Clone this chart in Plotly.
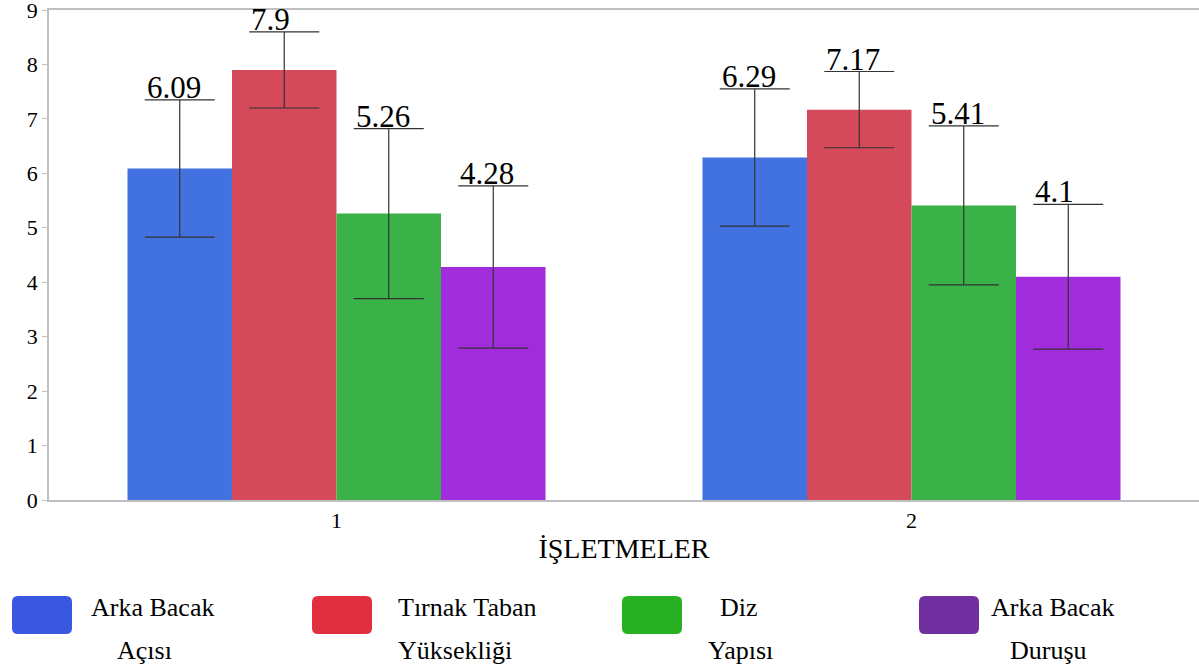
import plotly.graph_objects as go

categories = ["1", "2"]
series_names = ["Arka Bacak Açısı", "Tırnak Taban Yüksekliği", "Diz Yapısı", "Arka Bacak Duruşu"]
legend_line1 = ["Arka Bacak", "Tırnak Taban", "Diz", "Arka Bacak"]
legend_line2 = ["Açısı", "Yüksekliği", "Yapısı", "Duruşu"]

arka_bacak_acisi = [6.09, 6.29]
tirnak_taban = [7.9, 7.17]
diz_yapisi = [5.26, 5.41]
arka_bacak_durusu = [4.28, 4.1]
values = [arka_bacak_acisi, tirnak_taban, diz_yapisi, arka_bacak_durusu]

err_acisi = [1.26, 1.26]
err_tirnak = [0.70, 0.70]
err_diz = [1.56, 1.46]
err_durusu = [1.49, 1.33]
errors = [err_acisi, err_tirnak, err_diz, err_durusu]

bar_colors = ["#4272df", "#d54a5a", "#3bb247", "#a02cdc"]
legend_colors = ["#3a57e0", "#e03040", "#28b023", "#7030a0"]

y_ticks = list(range(0, 10))

FONT = "Liberation Serif"
BARGAP = 0.273

fig = go.Figure()
for name, vals, errs, col in zip(series_names, values, errors, bar_colors):
    fig.add_trace(go.Bar(
        x=categories, y=vals, name=name,
        marker=dict(color=col, line=dict(width=0)),
        error_y=dict(type="data", array=errs, visible=True,
                     color="#333333", thickness=1.2, width=35),
        showlegend=False,
    ))

# value labels above error bars
n = len(series_names)
w = (1 - BARGAP) / n
for j, (vals, errs) in enumerate(zip(values, errors)):
    for i, (v, e) in enumerate(zip(vals, errs)):
        fig.add_annotation(
            x=i + (j - (n - 1) / 2) * w, y=v + e, xref="x", yref="y",
            text=f"{v:g}", showarrow=False,
            xanchor="left", yanchor="bottom", xshift=-35, yshift=-7,
            font=dict(family=FONT, size=31, color="black"),
        )

# custom legend
W, H = 1199, 668
L, R, T, B = 49, 0, 10, 168
pw, ph = W - L - R, H - T - B

def px2x(px):
    return (px - L) / pw

def py2y(py):
    return (H - B - py) / ph

rect_left = [12, 312, 622, 919]
line1_cx = [152, 467, 739, 1052]
line2_cx = [144, 455, 741, 1048]
rw, r = 60, 6
ry0, ry1 = 596, 634
for k in range(n):
    x0p, x1p = rect_left[k], rect_left[k] + rw
    x0, x1 = px2x(x0p), px2x(x1p)
    y0, y1 = py2y(ry1), py2y(ry0)
    rx, rry = r / pw, r / ph
    path = (f"M {x0+rx},{y0} L {x1-rx},{y0} Q {x1},{y0} {x1},{y0+rry} "
            f"L {x1},{y1-rry} Q {x1},{y1} {x1-rx},{y1} L {x0+rx},{y1} "
            f"Q {x0},{y1} {x0},{y1-rry} L {x0},{y0+rry} Q {x0},{y0} {x0+rx},{y0} Z")
    fig.add_shape(type="path", path=path, xref="paper", yref="paper",
                  fillcolor=legend_colors[k], line=dict(width=0))
    fig.add_annotation(x=px2x(line1_cx[k]), y=py2y(607), xref="paper", yref="paper",
                       text=legend_line1[k], showarrow=False, xanchor="center", yanchor="middle",
                       font=dict(family=FONT, size=26, color="black"))
    fig.add_annotation(x=px2x(line2_cx[k]), y=py2y(650), xref="paper", yref="paper",
                       text=legend_line2[k], showarrow=False, xanchor="center", yanchor="middle",
                       font=dict(family=FONT, size=26, color="black"))

fig.update_layout(
    width=W, height=H,
    margin=dict(l=L, r=R, t=T, b=B, autoexpand=False),
    paper_bgcolor="white", plot_bgcolor="white",
    barmode="group", bargap=BARGAP, bargroupgap=0,
    font=dict(family=FONT, color="black"),
    showlegend=False,
    xaxis=dict(
        type="category", range=[-0.5, 1.5],
        showline=True, linecolor="#c0c0c0", linewidth=1.5, mirror=True,
        ticks="", showgrid=False, zeroline=False,
        tickfont=dict(family=FONT, size=22, color="black"),
        title=dict(text="İŞLETMELER", font=dict(family=FONT, size=28, color="black"), standoff=6),
    ),
    yaxis=dict(
        range=[0, 9], tickvals=y_ticks,
        showline=True, linecolor="#c0c0c0", linewidth=1.5, mirror=True,
        ticks="outside", ticklen=5, tickcolor="#c0c0c0",
        showgrid=False, zeroline=False, ticklabeloverflow="allow",
        tickfont=dict(family=FONT, size=22, color="black"),
    ),
)

fig.write_html("out.html", config={"displayModeBar": False},
               post_script="document.body.style.margin='0px';")
